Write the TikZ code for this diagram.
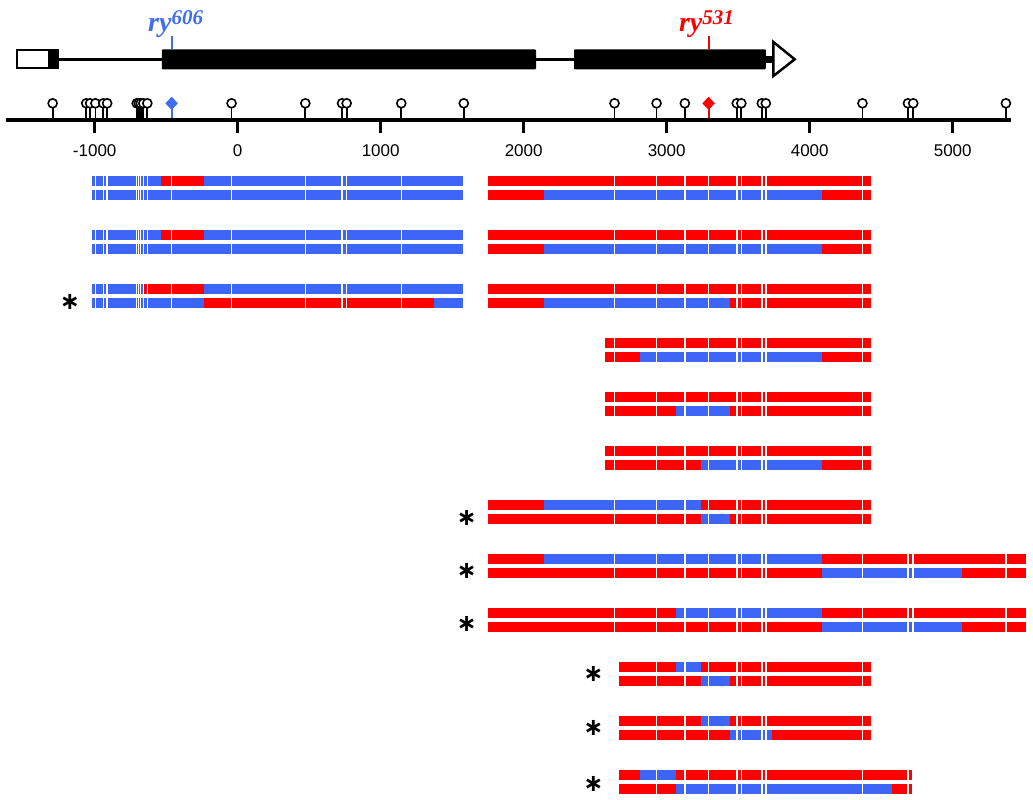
\documentclass[tikz,border=0pt]{standalone}
\usepackage{fontspec}
\setmainfont{Liberation Serif}
\setsansfont{Liberation Sans}
\newfontfamily\starfont{DejaVu Sans}
\definecolor{B}{RGB}{62,102,246}
\definecolor{R}{RGB}{255,0,0}
\definecolor{siteblue}{RGB}{64,110,240}
\newcommand\snplist{-1294,-1059,-1032,-995,-940,-913,-706,-692,-678,-660,-632,-43,473,730,762,1144,1581,2635,2929,3127,3490,3522,3665,3693,4369,4687,4724,5372}
\edef\sitelist{\snplist,-462,3293}
% one strand: top y, start, end, coloured pieces
\newcommand\strand[4]{%
\foreach \a/\b/\c in {#4} {\fill[\c] (\a,#1) rectangle (\b,#1+10.5);}
\begin{scope}
\clip (#2,#1) rectangle (#3,#1+10.5);
\foreach \m in \sitelist {\draw[white,line width=1.5pt] (\m,#1-1) -- (\m,#1+11.5);}
\end{scope}}

\begin{document}
\begin{tikzpicture}[x=0.143pt,y=-1pt,
  mut/.style={font=\fontsize{28}{28}\selectfont\bfseries\itshape,anchor=base,inner sep=0pt},
  ticklabel/.style={font=\sffamily\fontsize{17}{17}\selectfont,inner sep=0pt},
  star/.style={font=\starfont\bfseries\fontsize{24}{24}\selectfont,inner sep=0pt}]
\useasboundingbox (-1662.2,0) rectangle (5561.5,800);
\fill[white] (-1662.2,0) rectangle (5561.5,800);
% gene model
\draw[line width=3pt] (-1250,59.3) -- (-531,59.3) (2086,59.3) -- (2352,59.3);
\filldraw[fill=white,line width=2.2pt] (-1541,50.4) rectangle (-1317,68.2);
\fill (-1317,49.3) rectangle (-1250,69.3);
\fill[rounded corners=1pt] (-531,49.3) rectangle (2086,69.3);
\fill[rounded corners=1pt] (2352,49.3) rectangle (3694,69.3);
\fill (3690,56) rectangle (3750,62.6);
\filldraw[fill=white,line width=2.5pt,line join=miter] (3746,42) -- (3895,59.3) -- (3746,76) -- cycle;
\node[mut,text=siteblue] (ry606) at (-434,31.5) {ry\raisebox{6.5pt}{\fontsize{21}{21}\selectfont 606}};
\node[mut,text=R] (ry531) at (3278,31.5) {ry\raisebox{6.5pt}{\fontsize{21}{21}\selectfont 531}};
\draw[siteblue,line width=2pt] (-462,36) -- (-462,49.3);
\draw[R,line width=2pt] (3293,36) -- (3293,49.3);
% axis and sites
\foreach \m in \snplist
{\draw[line width=1.8pt] (\m,120) -- (\m,108);
\draw[line width=1.6pt,fill=white] (\m,103.3) circle[radius=4.5pt];}
\draw[siteblue,line width=1.8pt] (-462,120) -- (-462,105);
\fill[siteblue] (-462,96.8) -- ++(44,6.5) -- ++(-44,6.5) -- ++(-44,-6.5) -- cycle;
\draw[R,line width=1.8pt] (3293,120) -- (3293,105);
\fill[R] (3293,96.8) -- ++(44,6.5) -- ++(-44,6.5) -- ++(-44,-6.5) -- cycle;
\draw[line width=4.5pt] (-1623,120) -- (5408,120);
\foreach \t in {-1000,0,...,5000}
{\draw[line width=2.5pt] (\t,120) -- (\t,133);
\node[ticklabel] (tick\t) at (\t,151) {\t};}
% haplotypes
\foreach \yt/\yb in {176/190,230/244}
{\strand{\yt}{-1021}{1578}{-1021/-538/B,-538/-234/R,-234/1578/B}
\strand{\yb}{-1021}{1578}{-1021/1578/B}
\strand{\yt}{1752}{4429}{1752/4429/R}
\strand{\yb}{1752}{4429}{1752/2142/R,2142/4086/B,4086/4429/R}}
\strand{284}{-1021}{1578}{-1021/-664/B,-664/-234/R,-234/1578/B}
\strand{298}{-1021}{1578}{-1021/-234/B,-234/1373/R,1373/1578/B}
\strand{284}{1752}{4429}{1752/4429/R}
\strand{298}{1752}{4429}{1752/2142/R,2142/3443/B,3443/4429/R}
\strand{338}{2569}{4429}{2569/4429/R}
\strand{352}{2569}{4429}{2569/2813/R,2813/4086/B,4086/4429/R}
\strand{392}{2569}{4429}{2569/4429/R}
\strand{406}{2569}{4429}{2569/3065/R,3065/3443/B,3443/4429/R}
\strand{446}{2569}{4429}{2569/4429/R}
\strand{460}{2569}{4429}{2569/3240/R,3240/4086/B,4086/4429/R}
\strand{500}{1752}{4429}{1752/2142/R,2142/3240/B,3240/4429/R}
\strand{514}{1752}{4429}{1752/3240/R,3240/3443/B,3443/4429/R}
\strand{554}{1752}{5512}{1752/2142/R,2142/4086/B,4086/5512/R}
\strand{568}{1752}{5512}{1752/4086/R,4086/5065/B,5065/5512/R}
\strand{608}{1752}{5512}{1752/3065/R,3065/4086/B,4086/5512/R}
\strand{622}{1752}{5512}{1752/4086/R,4086/5065/B,5065/5512/R}
\strand{662}{2669}{4429}{2669/3065/R,3065/3240/B,3240/4429/R}
\strand{676}{2669}{4429}{2669/3240/R,3240/3443/B,3443/4429/R}
\strand{716}{2669}{4429}{2669/3240/R,3240/3443/B,3443/4429/R}
\strand{730}{2669}{4429}{2669/3443/R,3443/3734/B,3734/4429/R}
\strand{770}{2669}{4731}{2669/2813/R,2813/3065/B,3065/4731/R}
\strand{784}{2669}{4731}{2669/3065/R,3065/4575/B,4575/4731/R}
% recombinants
\node[star] (rec3) at (-1173,301.7) {∗};
\foreach \y [count=\i from 7] in {517.5,570.5,623.5}
{\node[star] (rec\i) at (1601,\y) {∗};}
\foreach \y [count=\i from 10] in {674,728,784}
{\node[star] (rec\i) at (2488,\y) {∗};}
\end{tikzpicture}
\end{document}
